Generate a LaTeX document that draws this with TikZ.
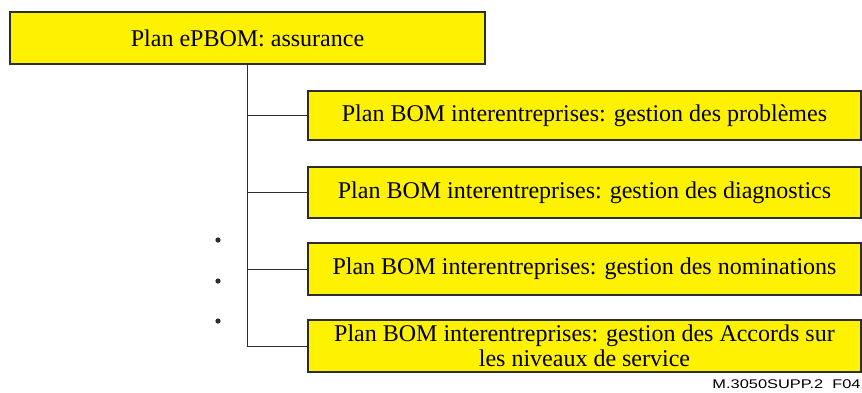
\documentclass[tikz,border=0pt]{standalone}
\usepackage{fontspec}
\setmainfont{Liberation Serif}
\setsansfont{Liberation Sans}
\usepackage{graphicx}
\usepackage{tikz}

\definecolor{planyellow}{RGB}{255,242,0}
\definecolor{planedge}{RGB}{45,45,45}

\begin{document}
\begin{tikzpicture}[x=0.5pt, y=-0.5pt,
	planbox/.style={draw=planedge, line width=1pt, fill=planyellow, inner sep=0pt,
		align=center, font=\fontsize{12}{12.6}\selectfont},
	link/.style={line width=0.5pt, draw=planedge}]

\def\width{862}
\def\height{392}
\def\cx{584.5}

\path [use as bounding box] (0,0) rectangle (\width,\height);

% PLAN BOXES
\node [planbox, minimum width=237.5pt, minimum height=26pt] (root) at (247.5,38) {Plan ePBOM: assurance};
\node [planbox, minimum width=276.5pt, minimum height=24.5pt] (gprob) at (\cx,115.5) {Plan BOM interentreprises: gestion des probl\`emes};
\node [planbox, minimum width=276.5pt, minimum height=25.5pt] (gdiag) at (\cx,192.5) {Plan BOM interentreprises: gestion des diagnostics};
\node [planbox, minimum width=276.5pt, minimum height=26pt] (gnomi) at (\cx,269) {Plan BOM interentreprises: gestion des nominations};
\node [planbox, minimum width=276.5pt, minimum height=26pt] (gsla) at (\cx,346) {Plan BOM interentreprises: gestion des Accords sur\\les niveaux de service};

% LINKS
\foreach \child in {gprob,gdiag,gnomi,gsla}
	\draw [link] (root.south) |- (\child.west);

% DOTS
\foreach \y in {240,281,321}
	\fill [planedge] (218,\y) circle (1.3pt);

% REFERENCE
\node [anchor=base east, inner sep=0pt, font=\fontsize{6.3}{7}\sffamily] (figref) at (861,388) {\scalebox{1.3}[1]{M.3050SUPP.2\ \ F04}};

\end{tikzpicture}
\end{document}
